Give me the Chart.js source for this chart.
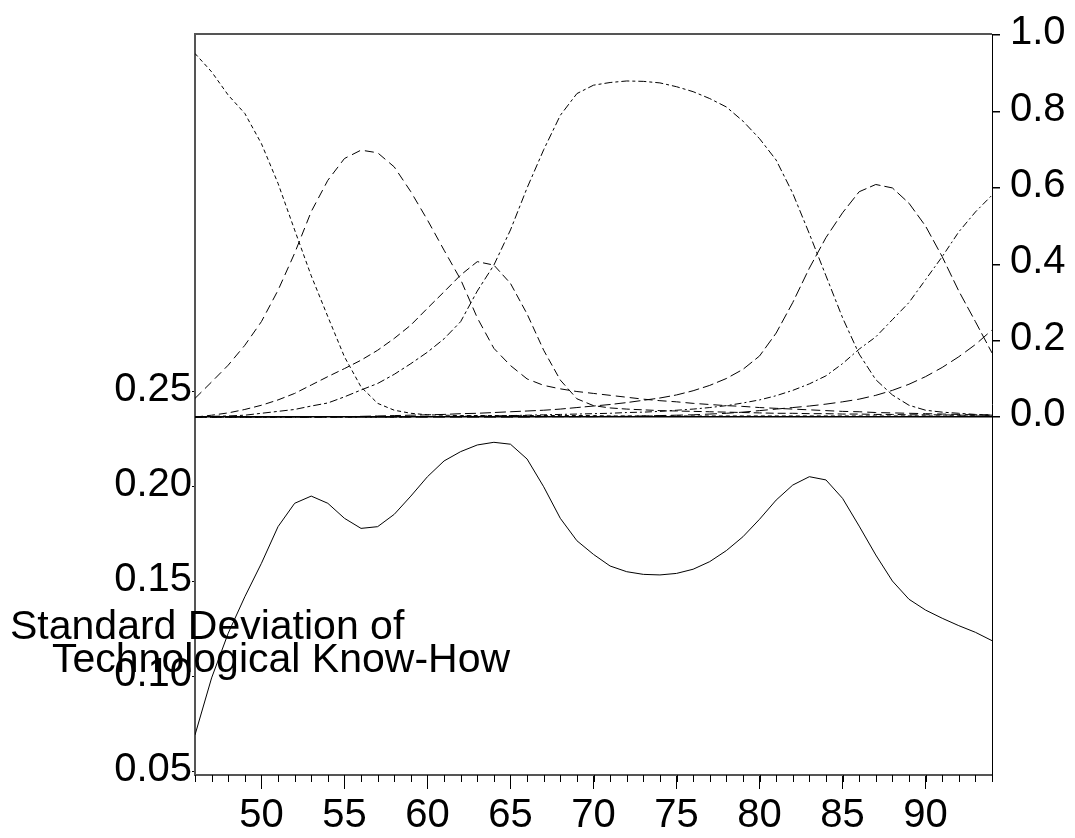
<!DOCTYPE html>
<html>
<head>
<meta charset="utf-8">
<script src="https://cdn.jsdelivr.net/npm/chart.js@4.4.1/dist/chart.umd.min.js"></script>
<style>
  html, body { margin: 0; padding: 0; background: #fff; }
</style>
</head>
<body>
<canvas id="chart" width="1075" height="838"></canvas>
<script>
// years 1946-1994, shown as two-digit labels
const years = [46, 47, 48, 49, 50, 51, 52, 53, 54, 55, 56, 57, 58, 59, 60, 61, 62,
  63, 64, 65, 66, 67, 68, 69, 70, 71, 72, 73, 74, 75, 76, 77, 78, 79, 80, 81, 82,
  83, 84, 85, 86, 87, 88, 89, 90, 91, 92, 93, 94];

// standard deviation of know-how (left axis)
const stdDev = [0.069, 0.099, 0.1225, 0.1417, 0.1593, 0.1786, 0.1909, 0.1947, 0.1909,
  0.183, 0.1777, 0.1786, 0.1851, 0.1947, 0.2049, 0.2132, 0.2181, 0.2216, 0.223, 0.222,
  0.2142, 0.1996, 0.183, 0.1712, 0.164, 0.1579, 0.1549, 0.1535, 0.1532, 0.154, 0.1562,
  0.1602, 0.166, 0.1733, 0.1825, 0.1926, 0.2005, 0.2049, 0.2032, 0.1935, 0.1789, 0.1637,
  0.15, 0.1404, 0.1347, 0.1304, 0.1265, 0.123, 0.1186];

// technology shares (right axis)
const tech1 = [0.952, 0.904, 0.843, 0.795, 0.716, 0.612, 0.49, 0.37, 0.263, 0.158, 0.079,
  0.036, 0.018, 0.010, 0.006, 0.005, 0.004, 0.004, 0.004, 0.004, 0.004, 0.004, 0.004,
  0.004, 0.004, 0.003, 0.003, 0.003, 0.003, 0.003, 0.003, 0.003, 0.003, 0.003, 0.003,
  0.003, 0.003, 0.003, 0.003, 0.003, 0.003, 0.003, 0.003, 0.003, 0.003, 0.003, 0.003,
  0.003, 0.003];
const tech2 = [0.049, 0.092, 0.136, 0.188, 0.25, 0.332, 0.429, 0.538, 0.62, 0.677, 0.699,
  0.692, 0.655, 0.59, 0.516, 0.437, 0.36, 0.26, 0.18, 0.135, 0.10, 0.083, 0.074, 0.067,
  0.062, 0.057, 0.052, 0.047, 0.043, 0.040, 0.036, 0.033, 0.030, 0.028, 0.025, 0.023,
  0.021, 0.019, 0.017, 0.015, 0.014, 0.012, 0.011, 0.010, 0.009, 0.008, 0.007, 0.006,
  0.006];
const tech3 = [0.0, 0.005, 0.011, 0.02, 0.031, 0.045, 0.062, 0.084, 0.106, 0.127, 0.149,
  0.175, 0.206, 0.241, 0.285, 0.328, 0.372, 0.407, 0.398, 0.35, 0.27, 0.175, 0.097, 0.048,
  0.03, 0.024, 0.021, 0.019, 0.017, 0.016, 0.015, 0.014, 0.013, 0.012, 0.011, 0.010,
  0.010, 0.009, 0.009, 0.008, 0.008, 0.007, 0.007, 0.006, 0.006, 0.006, 0.005, 0.005,
  0.005];
const tech4 = [0.0, 0.002, 0.003, 0.005, 0.010, 0.015, 0.020, 0.029, 0.037, 0.053, 0.071,
  0.088, 0.112, 0.14, 0.17, 0.205, 0.25, 0.33, 0.398, 0.49, 0.60, 0.70, 0.79, 0.847,
  0.869, 0.876, 0.880, 0.879, 0.875, 0.865, 0.852, 0.834, 0.812, 0.775, 0.729, 0.673,
  0.586, 0.48, 0.37, 0.26, 0.165, 0.098, 0.058, 0.031, 0.018, 0.013, 0.010, 0.007, 0.005];
const tech5 = [0.0, 0.0, 0.0, 0.0, 0.0, 0.0, 0.0, 0.0, 0.001, 0.001, 0.002, 0.003, 0.004,
  0.005, 0.006, 0.007, 0.009, 0.010, 0.012, 0.014, 0.016, 0.018, 0.021, 0.025, 0.029,
  0.033, 0.038, 0.044, 0.05, 0.058, 0.069, 0.083, 0.101, 0.125, 0.16, 0.22, 0.30, 0.39,
  0.47, 0.535, 0.59, 0.609, 0.600, 0.56, 0.50, 0.42, 0.33, 0.25, 0.168];
const tech6 = [0.0, 0.0, 0.0, 0.0, 0.0, 0.0, 0.0, 0.0, 0.0, 0.0, 0.0, 0.0, 0.0, 0.001,
  0.001, 0.002, 0.002, 0.003, 0.003, 0.004, 0.005, 0.006, 0.007, 0.008, 0.009, 0.010,
  0.012, 0.013, 0.015, 0.018, 0.021, 0.025, 0.030, 0.037, 0.045, 0.056, 0.07, 0.087,
  0.108, 0.14, 0.178, 0.21, 0.255, 0.30, 0.36, 0.42, 0.485, 0.537, 0.581];
const tech7 = [0.0, 0.0, 0.0, 0.0, 0.0, 0.0, 0.0, 0.0, 0.0, 0.0, 0.0, 0.0, 0.0, 0.0, 0.0,
  0.0, 0.0, 0.0, 0.0, 0.0, 0.0, 0.001, 0.001, 0.001, 0.001, 0.002, 0.002, 0.003, 0.004,
  0.005, 0.006, 0.008, 0.010, 0.013, 0.017, 0.021, 0.025, 0.029, 0.034, 0.04, 0.047,
  0.057, 0.07, 0.086, 0.106, 0.13, 0.158, 0.19, 0.228];

const yearTicks = [50, 55, 60, 65, 70, 75, 80, 85, 90];
const leftTicks = [0.05, 0.10, 0.15, 0.20, 0.25];
const rightTicks = [0.0, 0.2, 0.4, 0.6, 0.8, 1.0];
const captionLines = ['Standard Deviation of', 'Technological Know-How'];

const FONT_FAMILY = '"Liberation Sans", Arial, Helvetica, sans-serif';
const tickFont = { family: FONT_FAMILY, size: 40 };

function points(values) {
  return years.map((yr, i) => ({ x: yr, y: values[i] }));
}

function series(values, dash, axis) {
  return {
    data: points(values),
    borderColor: '#000',
    borderWidth: 1,
    borderDash: dash,
    pointRadius: 0,
    tension: 0,
    fill: false,
    yAxisID: axis
  };
}

// frame top edge, yearly minor ticks and the caption
const frameAndCaption = {
  id: 'frameAndCaption',
  afterDraw(chart) {
    const { ctx, chartArea: a, scales } = chart;
    ctx.save();
    ctx.strokeStyle = '#555';
    ctx.lineWidth = 2;
    ctx.beginPath();
    ctx.moveTo(a.left - 1, a.top);
    ctx.lineTo(a.right, a.top);
    ctx.stroke();

    ctx.strokeStyle = '#000';
    ctx.lineWidth = 1;
    ctx.beginPath();
    years.forEach(yr => {
      const px = Math.round(scales.x.getPixelForValue(yr)) + 0.5;
      ctx.moveTo(px, a.bottom);
      ctx.lineTo(px, a.bottom + 7);
    });
    ctx.stroke();

    ctx.fillStyle = '#000';
    ctx.font = '41px ' + FONT_FAMILY;
    ctx.textAlign = 'left';
    ctx.textBaseline = 'alphabetic';
    ctx.fillText(captionLines[0], 10, 639);
    ctx.fillText(captionLines[1], 52, 672);
    ctx.restore();
  }
};

new Chart(document.getElementById('chart'), {
  type: 'line',
  data: {
    datasets: [
      series(stdDev, [], 'y'),
      series(tech1, [4, 3], 'y2'),
      series(tech2, [9, 5], 'y2'),
      series(tech3, [8, 4], 'y2'),
      series(tech4, [8, 3, 3, 3], 'y2'),
      series(tech5, [11, 4], 'y2'),
      series(tech6, [7, 3, 2, 3], 'y2'),
      series(tech7, [12, 5], 'y2')
    ]
  },
  options: {
    responsive: false,
    animation: false,
    layout: { padding: { top: 34, left: 0, right: 0, bottom: 0 } },
    plugins: {
      legend: { display: false },
      tooltip: { enabled: false }
    },
    scales: {
      x: {
        type: 'linear',
        position: 'bottom',
        min: 46,
        max: 94,
        afterBuildTicks: s => { s.ticks = yearTicks.map(v => ({ value: v })); },
        afterFit: s => { s.height = 63; },
        ticks: {
          font: tickFont,
          color: '#000',
          padding: 3,
          maxRotation: 0,
          autoSkip: false,
          callback: v => String(v)
        },
        grid: { drawOnChartArea: false, tickLength: 14, tickColor: '#000', tickWidth: 1 },
        border: { color: '#555', width: 2 }
      },
      y: {
        position: 'left',
        min: 0.0479,
        max: 0.4379,
        afterBuildTicks: s => { s.ticks = leftTicks.map(v => ({ value: v })); },
        afterFit: s => { s.width = 195; },
        ticks: {
          font: tickFont,
          color: '#000',
          padding: 0,
          labelOffset: -1,
          callback: v => v.toFixed(2)
        },
        grid: { drawOnChartArea: false, tickLength: 3, tickColor: '#000' },
        border: { color: '#555', width: 2 }
      },
      y2: {
        position: 'right',
        min: -0.937,
        max: 1.003,
        afterBuildTicks: s => { s.ticks = rightTicks.map(v => ({ value: v })); },
        afterFit: s => { s.width = 83; },
        ticks: {
          font: tickFont,
          color: '#000',
          padding: 10,
          labelOffset: -2,
          callback: v => v.toFixed(1)
        },
        grid: {
          drawOnChartArea: true,
          color: c => (c.tick && c.tick.value === 0 ? '#000' : 'rgba(0,0,0,0)'),
          lineWidth: 1.5,
          tickLength: 8,
          tickColor: '#000'
        },
        border: { color: '#000', width: 1 }
      }
    }
  },
  plugins: [frameAndCaption]
});
</script>
</body>
</html>
